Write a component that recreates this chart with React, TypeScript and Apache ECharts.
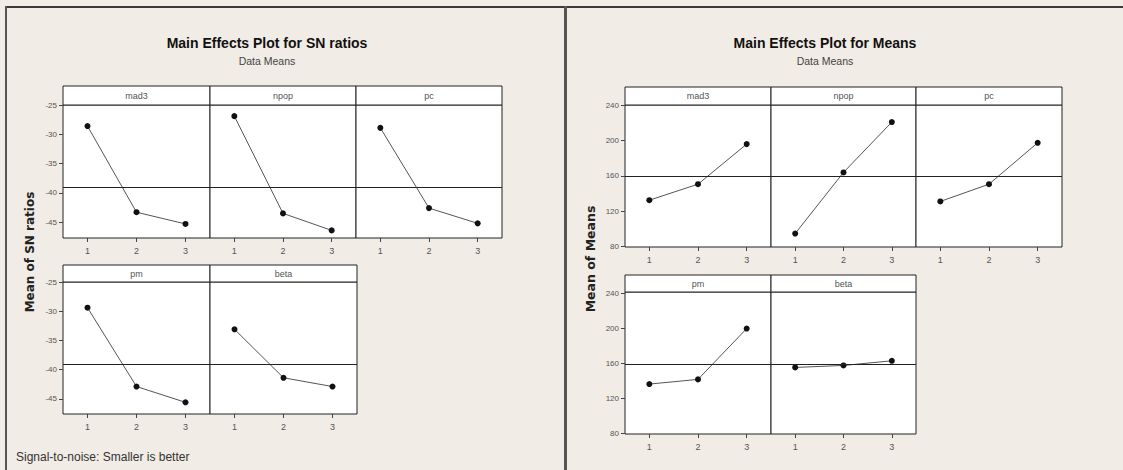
import React, { useEffect, useRef } from "react";
import * as echarts from "echarts";

const levels = ["1", "2", "3"];
const factorNames = ["mad3", "npop", "pc", "pm", "beta"];

// Main effects for SN ratios
const snMad3 = [-28.6, -43.3, -45.3];
const snNpop = [-26.9, -43.5, -46.4];
const snPc = [-28.9, -42.6, -45.2];
const snPm = [-29.4, -42.9, -45.6];
const snBeta = [-33.1, -41.4, -42.9];
const snGrandMean = -39.05;
const snTicks = [-45, -40, -35, -30, -25];

// Main effects for Means
const meanMad3 = [132.4, 150.5, 195.8];
const meanNpop = [94.7, 163.8, 220.7];
const meanPc = [131.0, 150.5, 197.3];
const meanPm = [136.3, 141.7, 200.0];
const meanBeta = [155.4, 157.7, 163.0];
const meansGrandMean = 159.6;
const meanTicks = [80, 120, 160, 200, 240];

const snSeries = [snMad3, snNpop, snPc, snPm, snBeta];
const meanSeries = [meanMad3, meanNpop, meanPc, meanPm, meanBeta];

const FONT = "'Liberation Sans', Arial, sans-serif";
const WIDE = "'DejaVu Sans', Verdana, sans-serif";

type Panel = { left: number; width: number; top: number; height: number; stripTop: number; first: boolean; min: number; max: number };

const layoutSN: Panel[] = [
  { left: 63, width: 147, top: 105, height: 133, stripTop: 86, first: true, min: -47.7, max: -25 },
  { left: 210, width: 146, top: 105, height: 133, stripTop: 86, first: false, min: -47.7, max: -25 },
  { left: 356, width: 146, top: 105, height: 133, stripTop: 86, first: false, min: -47.7, max: -25 },
  { left: 63, width: 147, top: 282, height: 132, stripTop: 265, first: true, min: -47.6, max: -25 },
  { left: 210, width: 147, top: 282, height: 132, stripTop: 265, first: false, min: -47.6, max: -25 },
];
const layoutMeans: Panel[] = [
  { left: 625, width: 146, top: 105, height: 142, stripTop: 87, first: true, min: 79.5, max: 240 },
  { left: 771, width: 145, top: 105, height: 142, stripTop: 87, first: false, min: 79.5, max: 240 },
  { left: 916, width: 146, top: 105, height: 142, stripTop: 87, first: false, min: 79.5, max: 240 },
  { left: 625, width: 146, top: 292, height: 142, stripTop: 275, first: true, min: 79, max: 242 },
  { left: 771, width: 145, top: 292, height: 142, stripTop: 275, first: false, min: 79, max: 242 },
];

function buildOption() {
  const grids: any[] = [];
  const xAxes: any[] = [];
  const yAxes: any[] = [];
  const series: any[] = [];
  const graphics: any[] = [];

  const addPanels = (layout: Panel[], data: number[][], ticks: number[], mean: number) => {
    layout.forEach((p, i) => {
      const idx = grids.length;
      grids.push({
        left: p.left, top: p.top, width: p.width, height: p.height,
        show: true, backgroundColor: "#ffffff", borderColor: "#222", borderWidth: 1,
      });
      xAxes.push({
        type: "category", gridIndex: idx, data: levels, boundaryGap: true,
        axisLine: { show: false },
        axisTick: { show: true, alignWithLabel: true, length: 4, lineStyle: { color: "#444" } },
        axisLabel: { color: "#555", fontSize: 9, fontFamily: FONT, margin: 8, interval: 0 },
        splitLine: { show: false },
      });
      yAxes.push({
        type: "value", gridIndex: idx, min: p.min, max: p.max,
        axisLine: { show: false },
        splitLine: { show: false },
        axisTick: { show: p.first, length: 4, customValues: ticks, lineStyle: { color: "#444" } },
        axisLabel: { show: p.first, customValues: ticks, color: "#555", fontSize: 8, fontFamily: FONT, margin: 6 },
      });
      series.push({
        type: "line", xAxisIndex: idx, yAxisIndex: idx, data: data[i],
        symbol: "circle", symbolSize: 6,
        itemStyle: { color: "#111" },
        lineStyle: { color: "#555", width: 1 },
        markLine: {
          silent: true, symbol: "none", label: { show: false },
          lineStyle: { color: "#222", type: "solid", width: 1 },
          data: [{ yAxis: mean }],
        },
      });
      graphics.push({
        type: "rect",
        shape: { x: p.left, y: p.stripTop, width: p.width, height: p.top - p.stripTop },
        style: { fill: "#ffffff", stroke: "#222", lineWidth: 1 },
        z: 10,
      });
      graphics.push({
        type: "text",
        x: p.left + p.width / 2, y: (p.stripTop + p.top) / 2,
        style: { text: factorNames[i], fill: "#555", font: `9px ${FONT}`, align: "center", verticalAlign: "middle" },
        z: 11,
      });
    });
  };

  addPanels(layoutSN, snSeries, snTicks, snGrandMean);
  addPanels(layoutMeans, meanSeries, meanTicks, meansGrandMean);

  // frame lines
  graphics.push({ type: "rect", shape: { x: 5, y: 6, width: 1118, height: 2 }, style: { fill: "#3a3a3a" }, z: 1 });
  graphics.push({ type: "rect", shape: { x: 5, y: 6, width: 2, height: 464 }, style: { fill: "#555" }, z: 1 });
  graphics.push({ type: "rect", shape: { x: 564, y: 6, width: 3, height: 464 }, style: { fill: "#555" }, z: 1 });

  // titles
  const titleStyle = (t: string, x: number, y: number) => ({
    type: "text", x, y,
    style: { text: t, fill: "#111", font: `bold 14px ${FONT}`, align: "center", verticalAlign: "middle" },
  });
  const subStyle = (t: string, x: number, y: number) => ({
    type: "text", x, y,
    style: { text: t, fill: "#444", font: `10.5px ${FONT}`, align: "center", verticalAlign: "middle" },
  });
  graphics.push(titleStyle("Main Effects Plot for SN ratios", 267, 43));
  graphics.push(subStyle("Data Means", 267, 61));
  graphics.push(titleStyle("Main Effects Plot for Means", 825, 43));
  graphics.push(subStyle("Data Means", 825, 61));

  graphics.push({
    type: "text", x: 30, y: 252, rotation: Math.PI / 2,
    style: { text: "Mean of SN ratios", fill: "#222", font: `bold 12px ${WIDE}`, align: "center", verticalAlign: "middle" },
  });
  graphics.push({
    type: "text", x: 590, y: 259, rotation: Math.PI / 2,
    style: { text: "Mean of Means", fill: "#222", font: `bold 12.5px ${WIDE}`, align: "center", verticalAlign: "middle" },
  });
  graphics.push({
    type: "text", x: 16, y: 457,
    style: { text: "Signal-to-noise: Smaller is better", fill: "#333", font: `12px ${FONT}`, align: "left", verticalAlign: "middle" },
  });

  return {
    animation: false,
    backgroundColor: "#f1ece5",
    grid: grids,
    xAxis: xAxes,
    yAxis: yAxes,
    series,
    graphic: graphics,
  };
}

export default function App() {
  const ref = useRef<HTMLDivElement>(null);
  useEffect(() => {
    if (!ref.current) return;
    const chart = echarts.init(ref.current, undefined, { renderer: "svg" });
    chart.setOption(buildOption());
    return () => chart.dispose();
  }, []);
  return (
    <div
      ref={ref}
      style={{ position: "fixed", left: 0, top: 0, width: 1123, height: 470 }}
    />
  );
}
